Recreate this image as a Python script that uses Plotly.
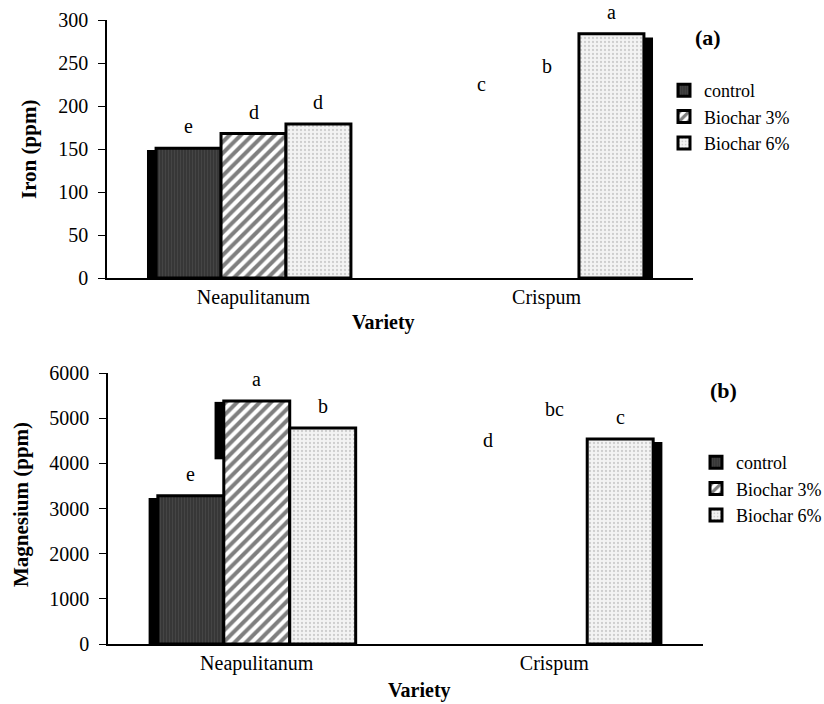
import plotly.graph_objects as go

varieties = ["Neapulitanum", "Crispum"]
treatments = ["control", "Biochar 3%", "Biochar 6%"]

iron_control = [151, 200]
iron_b3 = [168, 221]
iron_b6 = [179, 284]
iron_letters = [["e", "c"], ["d", "b"], ["d", "a"]]

mg_control = [3280, 4030]
mg_b3 = [5380, 4710]
mg_b6 = [4780, 4540]
mg_letters = [["e", "d"], ["a", "bc"], ["b", "c"]]

# Crispum control and Biochar 3% bars are not drawn in the original (only letters)
visible = [[True, False], [True, False], [True, True]]

FONT = "Liberation Serif, DejaVu Serif, Noto Serif, Times New Roman, Times, serif"
BARGAP = 0.335
SHADOW_W = 0.031

styles = [
    dict(bg="#333333", fg="#585858", shape="|", size=3, solidity=0.45),
    dict(bg="#ffffff", fg="#000000", shape="/", size=8, solidity=0.5),
    dict(bg="#f3f3f3", fg="#a8a8a8", shape=".", size=4, solidity=0.25),
]

# decorative 3-D shadow: (panel, treatment, variety, side, bottom fraction of bar height)
shadows = [
    (0, 0, 0, "left", 0.0),
    (0, 2, 1, "right", 0.0),
    (1, 0, 0, "left", 0.0),
    (1, 1, 0, "left", 0.76),
    (1, 2, 1, "right", 0.0),
]

fig = go.Figure()
xs = list(range(len(varieties)))
bw = (1 - BARGAP) / len(treatments)
annotations = []

panels = [
    ([iron_control, iron_b3, iron_b6], iron_letters, "x", "y", "legend"),
    ([mg_control, mg_b3, mg_b6], mg_letters, "x2", "y2", "legend2"),
]

for p, (vals_all, letters, xa, ya, leg) in enumerate(panels):
    for j, name in enumerate(treatments):
        st = styles[j]
        yv = [v if vis else None for v, vis in zip(vals_all[j], visible[j])]
        fig.add_trace(go.Bar(
            x=xs, y=yv, name=name, xaxis=xa, yaxis=ya, legend=leg,
            offsetgroup=str(j),
            marker=dict(
                color=st["bg"],
                line=dict(color="black", width=3),
                pattern=dict(shape=st["shape"], fgcolor=st["fg"], bgcolor=st["bg"],
                             size=st["size"], solidity=st["solidity"]),
            ),
        ))
        for i in xs:
            annotations.append(dict(
                x=i + (j - 1) * bw, y=vals_all[j][i], xref=xa, yref=ya,
                text=letters[j][i], showarrow=False, yshift=22,
                xanchor="center", yanchor="middle",
                font=dict(family=FONT, size=20, color="black"),
            ))

for (p, j, i, side, frac) in shadows:
    vals_all, _, xa, ya, _ = panels[p]
    v = vals_all[j][i]
    left = (j - 1) * bw - bw / 2
    off = left - SHADOW_W if side == "left" else left + bw
    fig.add_trace(go.Bar(
        x=[i], y=[v * (1 - frac) * 0.985], base=[v * frac], width=[SHADOW_W], offset=[off],
        xaxis=xa, yaxis=ya, showlegend=False, hoverinfo="skip",
        marker=dict(color="black", line=dict(width=0)),
    ))


def label(text, px, py, size, angle=0):
    return dict(text=text, x=px / 824, y=1 - py / 704, xref="paper", yref="paper",
                xanchor="center", yanchor="middle", showarrow=False, textangle=angle,
                font=dict(family=FONT, size=size, color="black"))


annotations += [
    label("<b>(a)</b>", 708, 37, 22),
    label("<b>(b)</b>", 723, 390, 22),
    label("<b>Variety</b>", 383, 322, 20),
    label("<b>Variety</b>", 419, 690, 20),
    label("<b>Iron (ppm)</b>", 29, 150, 21, -90),
    label("<b>Magnesium (ppm)</b>", 21, 505, 21, -90),
]

xcommon = dict(range=[-0.5, 1.5], tickvals=xs, ticktext=varieties, showline=True,
               linecolor="black", linewidth=1.5, ticks="", showgrid=False, zeroline=False,
               automargin=False,
               tickfont=dict(family=FONT, size=20, color="black"))
ycommon = dict(showline=True, linecolor="black", linewidth=1.5, ticks="outside",
               ticklen=7, tickcolor="black", showgrid=False, zeroline=False,
               ticklabelstandoff=6, automargin=False,
               tickfont=dict(family=FONT, size=20, color="black"))

fig.update_layout(
    width=824, height=704,
    margin=dict(l=0, r=0, t=0, b=0, autoexpand=False),
    paper_bgcolor="white", plot_bgcolor="white",
    barmode="group", bargap=BARGAP, bargroupgap=0,
    xaxis=dict(**xcommon, domain=[107 / 824, 693 / 824], anchor="y"),
    yaxis=dict(**ycommon, domain=[1 - 278 / 704, 1 - 20 / 704], range=[0, 300],
               tickvals=[0, 50, 100, 150, 200, 250, 300], anchor="x"),
    xaxis2=dict(**xcommon, domain=[108 / 824, 703 / 824], anchor="y2"),
    yaxis2=dict(**ycommon, domain=[1 - 644 / 704, 1 - 373 / 704], range=[0, 6000],
                tickvals=[0, 1000, 2000, 3000, 4000, 5000, 6000], anchor="x2"),
    legend=dict(x=664 / 824, y=1 - 72 / 704, xanchor="left", yanchor="top",
                font=dict(family=FONT, size=18, color="black"), bgcolor="rgba(0,0,0,0)",
                itemwidth=30, tracegroupgap=0),
    legend2=dict(x=696 / 824, y=1 - 444 / 704, xanchor="left", yanchor="top",
                 font=dict(family=FONT, size=18, color="black"), bgcolor="rgba(0,0,0,0)",
                 itemwidth=30, tracegroupgap=0),
    annotations=annotations,
    font=dict(family=FONT, color="black"),
)

fig.write_html("out.html")
